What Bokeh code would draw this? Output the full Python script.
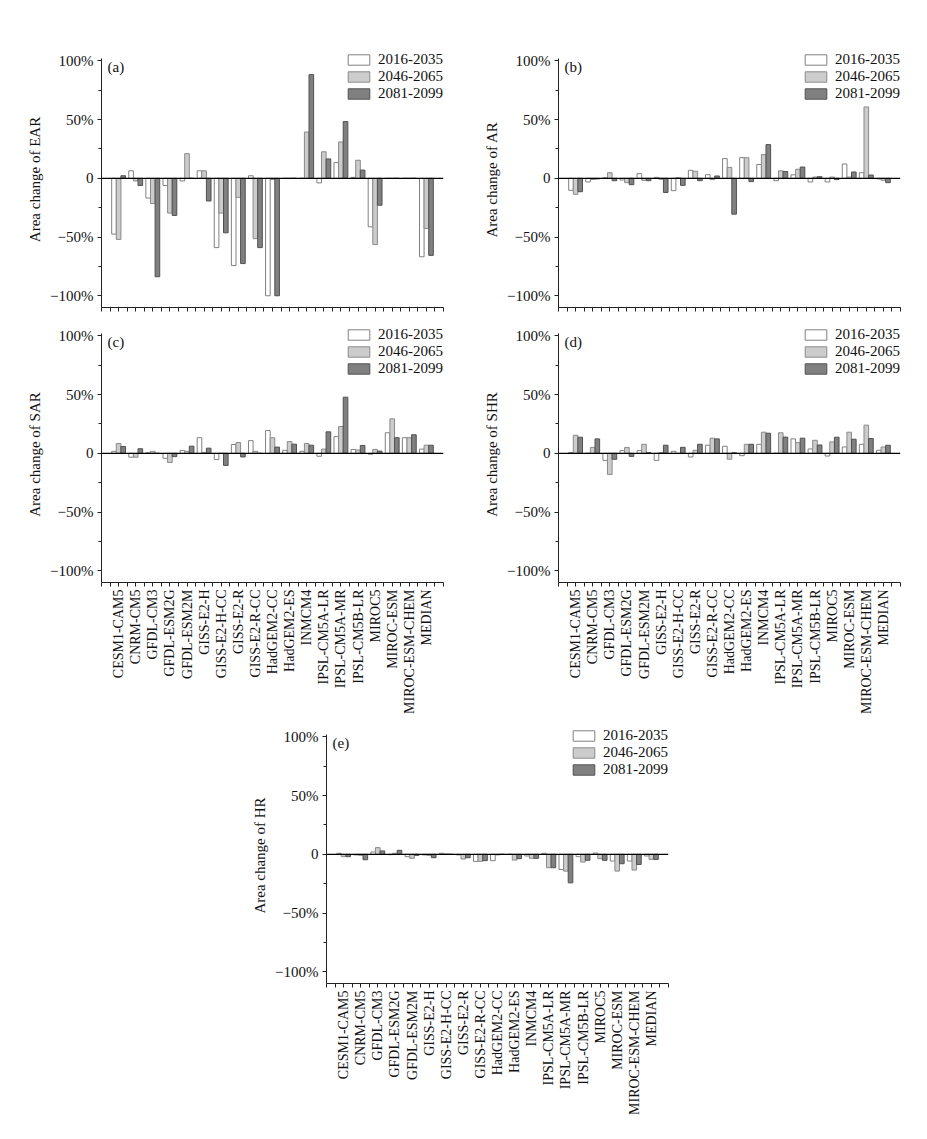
import math
from bokeh.plotting import figure
from bokeh.models import ColumnDataSource, FixedTicker, Span, Label, Legend, LegendItem, Spacer
from bokeh.layouts import column, row
from bokeh.transform import dodge
from bokeh.embed import file_html
from bokeh.resources import INLINE

models = ["CESM1-CAM5", "CNRM-CM5", "GFDL-CM3", "GFDL-ESM2G", "GFDL-ESM2M",
          "GISS-E2-H", "GISS-E2-H-CC", "GISS-E2-R", "GISS-E2-R-CC", "HadGEM2-CC",
          "HadGEM2-ES", "INMCM4", "IPSL-CM5A-LR", "IPSL-CM5A-MR", "IPSL-CM5B-LR",
          "MIROC5", "MIROC-ESM", "MIROC-ESM-CHEM", "MEDIAN"]
periods = ["2016-2035", "2046-2065", "2081-2099"]

ear_2016 = [-47.5, 6.4, -16.8, -6.1, -2.2, 6.4, -59, -74.3, 2.2, -100, 0, 0, -3.9, 13.4, 0.8, -41.3, 0, 0, -66.8]
ear_2046 = [-52, -2.2, -21.5, -29.6, 21, 6.4, -29.6, -16.2, -51.4, -1, 0, 39.4, 22.6, 31, 15.4, -56.4, 0, 0, -42.7]
ear_2081 = [2.2, -6.1, -83.8, -31.6, 0, -19.3, -46.4, -72.6, -59, -100, 0, 88.3, 16.5, 48.3, 7, -22.9, 0, 0, -65.6]

ar_2016 = [-10.2, -3.1, 0.5, -1.4, 4, 0.8, -10.5, 6.8, 3.1, 16.8, 17.6, 11.8, -2, 3, -3.1, -3.1, 12.2, 4.8, -0.5]
ar_2046 = [-13.6, -1, 4.8, -3.7, -1.7, -0.8, 0.5, 6, -1.1, 9.3, 17.6, 20.2, 6.4, 7.7, 1.1, 1.1, 1.1, 60.8, -1.7]
ar_2081 = [-11.4, -0.5, -2, -5.4, -2, -12, -6, -2, 2, -30.5, -2.8, 28.7, 5.8, 9.6, 1.4, -1.1, 5.4, 2.8, -3.7]

sar_2016 = [1.7, -3.3, 0.5, -4.2, 2.5, 13.3, -5.3, 7.5, 10.8, 19.4, 2.5, 1.7, -2.5, 14.2, 3.3, -0.8, 17.5, 13.3, 3.6]
sar_2046 = [8.3, -3.3, 1.7, -7.8, 1.7, 0.8, 0, 9.2, 1.7, 13.3, 10, 8.3, 3.6, 22.8, 2.8, 3.3, 29.4, 13.3, 6.9]
sar_2081 = [5.8, 3.9, 0, -2.8, 6.1, 4.4, -10.3, -3.1, 0, 5.3, 7.8, 6.9, 18.3, 47.8, 6.7, 1.9, 13.3, 15.8, 6.9]

shr_2016 = [0.6, 0, -6, 2.3, 2.3, -6, 1.7, -3.1, 6.9, 6, -2, 7.7, 0, 12.3, 3.7, -2.3, 5.4, 7.7, 2.6]
shr_2046 = [15.4, 5.1, -18, 4.9, 7.7, 0.6, 0, 2.6, 12.9, -5, 7.7, 18, 17.5, 9.1, 11.1, 9.7, 18, 24, 5.4]
shr_2081 = [13.7, 12.3, -5.1, -2.6, 0.6, 6.9, 5.1, 7.7, 12.3, 0.5, 7.7, 17.1, 13.8, 12.9, 7.1, 13.7, 12, 12.6, 6.9]

hr_2016 = [0.9, -0.5, 2, -0.3, -2, -0.5, 0.9, -0.5, -6, -5.4, 0, -1.4, 0.9, -12.9, -2, 1.1, -5.7, -5.7, -1.4]
hr_2046 = [-2, -0.9, 5.7, 0.9, -3.4, -0.9, 0.3, -4, -6, -0.5, -4.9, -3.4, -11.4, -14.3, -6.6, -3.7, -14.3, -13.4, -4.3]
hr_2081 = [-2, -4.6, 2.9, 3.4, -0.9, -2.9, 0, -2.9, -5.4, 0, -3.7, -3.4, -11.4, -24.3, -5.1, -5.1, -8, -8.6, -4.3]

y_ticks = [-100, -50, 0, 50, 100]
y_tick_labels = ["\u2212100%", "\u221250%", "0", "50%", "100%"]

FONT = "Liberation Serif"
FILLS = ["#ffffff", "#cccccc", "#808080"]
LINES = ["#808080", "#8a8a8a", "#505050"]
FRAME_W, FRAME_H = 342, 256
BAR_W = 0.27


def make_panel(letter, ylabel, s1, s2, s3, show_labels, bl, br, bt, bb):
    p = figure(frame_width=FRAME_W, frame_height=FRAME_H,
               x_range=(0, 20), y_range=(-110, 108),
               output_backend="svg", toolbar_location=None,
               min_border_left=bl, min_border_right=br,
               min_border_top=bt, min_border_bottom=bb)
    p.outline_line_color = None
    p.background_fill_color = None
    p.border_fill_color = None
    p.xgrid.visible = False
    p.ygrid.visible = False

    src = ColumnDataSource(dict(x=[i + 1 for i in range(len(models))],
                                a=s1, b=s2, c=s3))
    items = []
    for k, (col, off) in enumerate(zip(["a", "b", "c"], [-BAR_W, 0, BAR_W])):
        r = p.vbar(x=dodge("x", off), top=col, bottom=0, width=BAR_W, source=src,
                   fill_color=FILLS[k], line_color=LINES[k], line_width=1)
        items.append(LegendItem(label=periods[k], renderers=[r]))

    p.add_layout(Span(location=0, dimension="width", line_color="black", line_width=1.3))

    # x axis
    xa = p.xaxis[0]
    xa.ticker = FixedTicker(ticks=list(range(0, 21)),
                            minor_ticks=[i + 0.5 for i in range(20)])
    ov = {0: "", 20: ""}
    for i, m in enumerate(models):
        ov[i + 1] = m if show_labels else ""
    xa.major_label_overrides = ov
    xa.major_label_orientation = math.pi / 2
    xa.major_label_text_font = FONT
    xa.major_label_text_font_size = "14px"
    xa.major_label_text_color = "#111111"
    xa.major_label_standoff = 3
    xa.major_tick_in = 0
    xa.major_tick_out = 4
    xa.minor_tick_in = 0
    xa.minor_tick_out = 4
    xa.axis_line_color = "#222222"
    xa.major_tick_line_color = "#222222"
    xa.minor_tick_line_color = "#222222"

    # y axis
    ya = p.yaxis[0]
    ya.bounds = (-110, 102)
    ya.ticker = FixedTicker(ticks=y_ticks, minor_ticks=[-75, -25, 25, 75])
    ya.major_label_overrides = {t: l for t, l in zip(y_ticks, y_tick_labels)}
    ya.major_label_text_font = FONT
    ya.major_label_text_font_size = "15px"
    ya.major_label_text_color = "#111111"
    ya.major_label_standoff = 4
    ya.major_tick_in = 0
    ya.major_tick_out = 4
    ya.minor_tick_in = 0
    ya.minor_tick_out = 3
    ya.axis_line_color = "#222222"
    ya.major_tick_line_color = "#222222"
    ya.minor_tick_line_color = "#222222"
    ya.axis_label = ylabel
    ya.axis_label_text_font = FONT
    ya.axis_label_text_font_size = "15px"
    ya.axis_label_text_font_style = "normal"
    ya.axis_label_text_color = "#111111"
    ya.axis_label_standoff = 4

    leg = Legend(items=items, location="top_right",
                 glyph_width=27, glyph_height=13, label_height=13,
                 label_standoff=6, spacing=0, padding=0, margin=0,
                 label_text_font=FONT, label_text_font_size="15px",
                 label_text_color="#111111",
                 background_fill_alpha=0, border_line_color=None)
    p.add_layout(leg)

    p.add_layout(Label(x=6, y=FRAME_H - 7, x_units="screen", y_units="screen",
                       text="(" + letter + ")", text_font=FONT, text_font_size="15px",
                       text_baseline="top", text_color="#111111"))
    return p


pa = make_panel("a", "Area change of EAR", ear_2016, ear_2046, ear_2081, False, 101, 10, 51, 10)
pb = make_panel("b", "Area change of AR", ar_2016, ar_2046, ar_2081, False, 105, 18, 51, 10)
pc = make_panel("c", "Area change of SAR", sar_2016, sar_2046, sar_2081, True, 101, 10, 9, 140)
pd = make_panel("d", "Area change of SHR", shr_2016, shr_2046, shr_2081, True, 105, 18, 9, 140)
pe = make_panel("e", "Area change of HR", hr_2016, hr_2046, hr_2081, True, 93, 10, 5, 140)

layout = column(row(pa, pb), row(pc, pd), row(Spacer(width=233, height=10), pe))

open("out.html", "w").write(file_html(layout, INLINE))
